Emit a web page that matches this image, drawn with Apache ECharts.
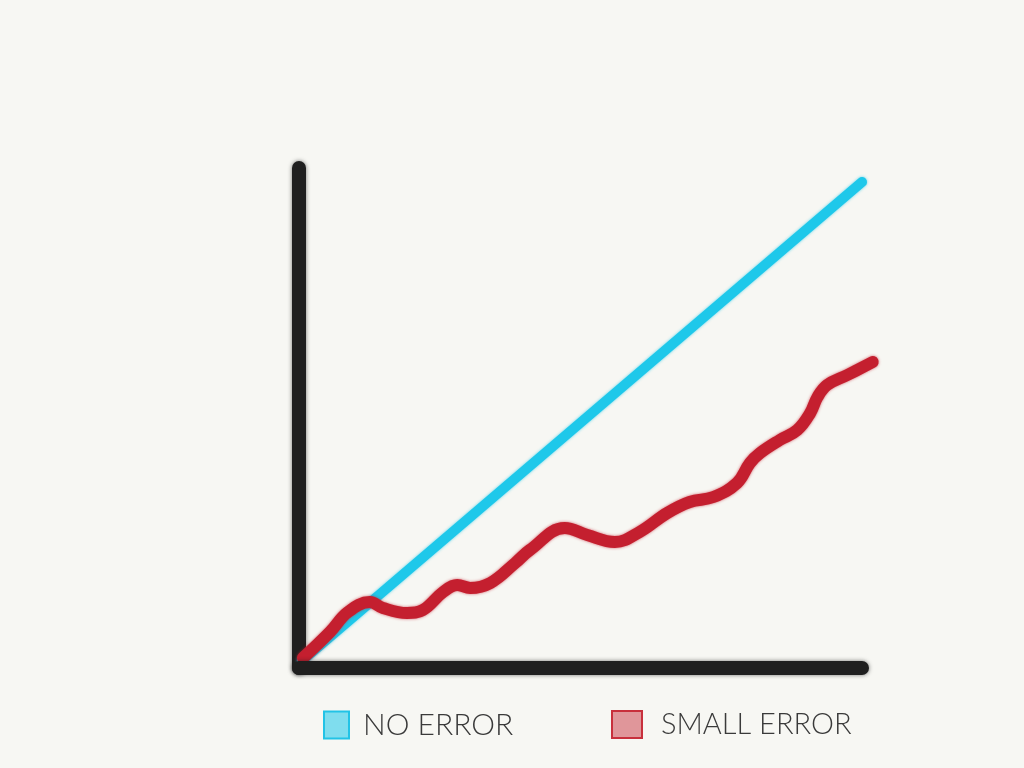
<!DOCTYPE html>
<html>
<head>
<meta charset="utf-8">
<script src="https://cdn.jsdelivr.net/npm/echarts@6/dist/echarts.min.js"></script>
<style>
html,body{margin:0;padding:0;background:#f7f7f3;}
#c{width:1024px;height:768px;}
</style>
</head>
<body>
<div id="c"></div>
<script>
var seriesNames = ['NO ERROR', 'SMALL ERROR'];
var noErrorX = [0.5, 100.0];
var noErrorY = [1.4, 97.2];
var smallErrorX = [0.7,5.5,8.7,12.6,14.9,19.2,22.0,25.6,28.1,30.4,34.0,38.4,41.0,47.2,51.2,56.1,60.5,65.4,69.4,73.6,77.8,80.1,81.9,85.4,88.5,90.8,92.1,93.8,97.4,101.9];
var smallErrorY = [2.0,7.2,11.2,13.2,12.0,11.0,11.6,15.2,16.6,16.0,17.0,21.0,23.6,28.0,26.6,25.2,27.2,31.0,33.2,34.2,37.0,41.0,43.0,45.6,47.6,51.0,54.2,56.6,58.6,61.2];
var xAxisEnd = 100;

function zip(a, b) { return a.map(function (v, i) { return [v, b[i]]; }); }

var chart = echarts.init(document.getElementById('c'));
var axisStyle = { color: '#1f1f1f', width: 14, cap: 'round', shadowBlur: 4, shadowColor: 'rgba(30,30,30,0.6)' };
chart.setOption({
  backgroundColor: '#f7f7f3',
  animation: false,
  grid: { left: 299, top: 168, width: 600, height: 500, containLabel: false },
  xAxis: {
    type: 'value', min: 0, max: 106.57,
    axisLine: { show: false },
    axisTick: { show: false }, axisLabel: { show: false }, splitLine: { show: false }
  },
  yAxis: {
    type: 'value', min: 0, max: 100,
    axisLine: { show: true, onZero: false, lineStyle: axisStyle },
    axisTick: { show: false }, axisLabel: { show: false }, splitLine: { show: false }
  },
  legend: [
    {
      data: [seriesNames[0]], left: 318, top: 705, icon: 'rect',
      itemWidth: 25, itemHeight: 27,
      itemStyle: { color: 'rgba(30,200,234,0.55)', borderColor: '#22c3e6', borderWidth: 2 },
      textStyle: { fontFamily: 'Lato, "Open Sans", sans-serif', fontWeight: 300, fontSize: 30, color: '#3a3a3a', padding: [0, 0, 0, 9] }
    },
    {
      data: [seriesNames[1]], left: 606, top: 705, icon: 'rect',
      itemWidth: 30, itemHeight: 27,
      itemStyle: { color: 'rgba(196,30,46,0.45)', borderColor: '#c8303c', borderWidth: 2 },
      textStyle: { fontFamily: 'Lato, "Open Sans", sans-serif', fontWeight: 300, fontSize: 29, color: '#3a3a3a', padding: [0, 0, 0, 14] }
    }
  ],
  series: [
    {
      name: 'xaxis', type: 'line', data: [], z: 1, silent: true,
      markLine: {
        silent: true, symbol: ['none', 'none'], label: { show: false },
        lineStyle: { type: 'solid', color: '#1f1f1f', width: 14, cap: 'round', shadowBlur: 4, shadowColor: 'rgba(30,30,30,0.6)' },
        emphasis: { disabled: true },
        data: [[{ coord: [0, 0] }, { coord: [xAxisEnd, 0] }]]
      }
    },
    {
      name: seriesNames[0], type: 'line', data: zip(noErrorX, noErrorY),
      showSymbol: false, clip: false, z: 3,
      lineStyle: { color: '#1ec8ea', width: 10, cap: 'round', shadowBlur: 3, shadowColor: 'rgba(30,200,234,0.7)' },
      itemStyle: { color: '#1ec8ea' }
    },
    {
      name: seriesNames[1], type: 'line', data: zip(smallErrorX, smallErrorY),
      showSymbol: false, clip: false, smooth: 0.4, z: 4,
      lineStyle: { color: '#c41f2f', width: 12, cap: 'round', join: 'round', shadowBlur: 3, shadowColor: 'rgba(196,31,47,0.7)' },
      itemStyle: { color: '#c41f2f' }
    }
  ]
});
</script>
</body>
</html>
